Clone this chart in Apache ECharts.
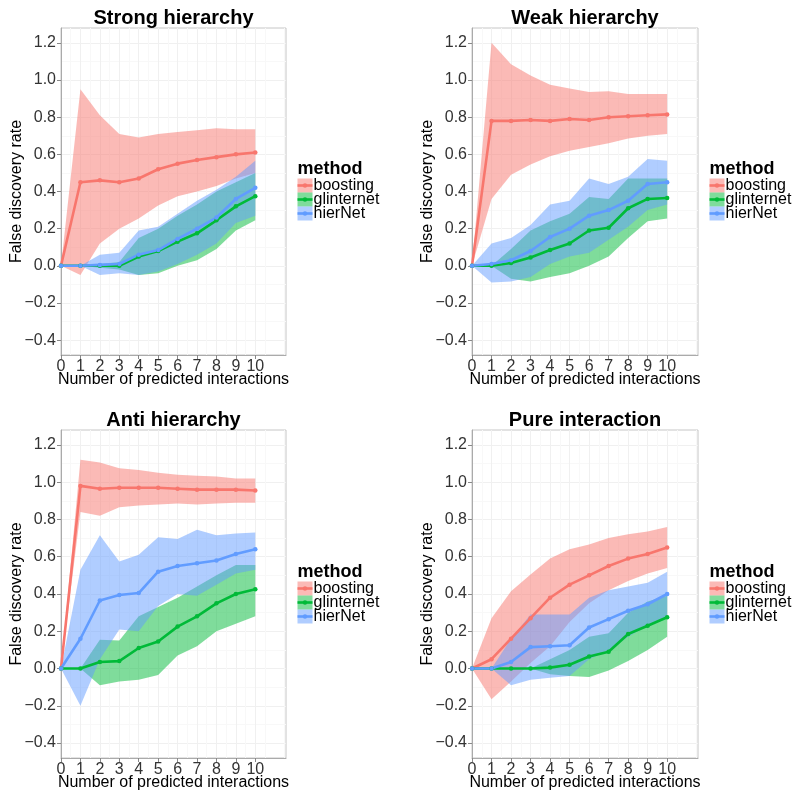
<!DOCTYPE html>
<html>
<head>
<meta charset="utf-8">
<script src="https://cdn.jsdelivr.net/npm/echarts@6/dist/echarts.min.js"></script>
<style>
html,body{margin:0;padding:0;background:#fff;}
#chart{width:800px;height:803px;}
</style>
</head>
<body>
<div id="chart"></div>
<script>
// ---------- DATA ----------
const xValues = [0,1,2,3,4,5,6,7,8,9,10];
const xTickLabels = [0,1,2,3,4,5,6,7,8,9,10];
const yTickLabels = [-0.4,-0.2,0,0.2,0.4,0.6,0.8,1.0,1.2];
const methods = ['boosting','glinternet','hierNet'];
const panelTitles = ['Strong hierarchy','Weak hierarchy','Anti hierarchy','Pure interaction'];

// Strong hierarchy
const strongBoostMean = [0,0.45,0.46,0.45,0.47,0.52,0.55,0.57,0.585,0.60,0.61];
const strongBoostHi   = [0,0.95,0.81,0.71,0.69,0.71,0.72,0.73,0.74,0.735,0.735];
const strongBoostLo   = [0,-0.05,0.12,0.20,0.255,0.325,0.375,0.40,0.43,0.47,0.50];
const strongGlintMean = [0,0,0,0,0.05,0.08,0.13,0.175,0.245,0.32,0.375];
const strongGlintHi   = [0,0,0.01,0.02,0.15,0.20,0.27,0.33,0.40,0.45,0.50];
const strongGlintLo   = [0,0,-0.01,-0.02,-0.05,-0.04,0.0,0.03,0.09,0.19,0.245];
const strongHierMean  = [0,0,0.005,0.01,0.06,0.085,0.145,0.20,0.26,0.36,0.42];
const strongHierHi    = [0,0,0.06,0.07,0.19,0.21,0.28,0.35,0.41,0.48,0.565];
const strongHierLo    = [0,0,-0.05,-0.04,-0.05,-0.03,0.01,0.06,0.12,0.23,0.27];

// Weak hierarchy
const weakBoostMean = [0,0.78,0.78,0.785,0.78,0.79,0.785,0.80,0.805,0.81,0.815];
const weakBoostHi   = [0,1.20,1.085,1.025,0.975,0.955,0.935,0.94,0.925,0.925,0.925];
const weakBoostLo   = [0,0.36,0.49,0.545,0.59,0.62,0.64,0.66,0.685,0.70,0.71];
const weakGlintMean = [0,0,0.015,0.045,0.085,0.12,0.19,0.205,0.31,0.36,0.365];
const weakGlintHi   = [0,0,0.09,0.19,0.24,0.28,0.37,0.36,0.47,0.47,0.47];
const weakGlintLo   = [0,0,-0.07,-0.085,-0.06,-0.04,0.0,0.05,0.15,0.24,0.255];
const weakHierMean  = [0,0.01,0.03,0.08,0.155,0.20,0.27,0.30,0.35,0.44,0.45];
const weakHierHi    = [0,0.12,0.15,0.22,0.33,0.35,0.47,0.44,0.48,0.575,0.565];
const weakHierLo    = [0,-0.09,-0.085,-0.06,0.01,0.05,0.07,0.14,0.21,0.30,0.33];

// Anti hierarchy
const antiBoostMean = [0,0.98,0.965,0.97,0.97,0.97,0.965,0.96,0.96,0.96,0.955];
const antiBoostHi   = [0,1.12,1.105,1.075,1.065,1.05,1.04,1.035,1.03,1.02,1.02];
const antiBoostLo   = [0,0.84,0.82,0.865,0.875,0.88,0.885,0.88,0.885,0.89,0.89];
const antiGlintMean = [0,0,0.035,0.04,0.11,0.145,0.225,0.28,0.35,0.40,0.425];
const antiGlintHi   = [0,0,0.155,0.15,0.28,0.33,0.38,0.44,0.50,0.555,0.555];
const antiGlintLo   = [0,0,-0.09,-0.07,-0.06,-0.035,0.07,0.12,0.20,0.24,0.28];
const antiHierMean  = [0,0.16,0.365,0.395,0.405,0.52,0.55,0.565,0.58,0.615,0.64];
const antiHierHi    = [0,0.53,0.715,0.575,0.61,0.705,0.695,0.745,0.715,0.725,0.73];
const antiHierLo    = [0,-0.20,0.05,0.21,0.20,0.335,0.40,0.39,0.45,0.51,0.53];

// Pure interaction
const pureBoostMean = [0,0.05,0.16,0.27,0.38,0.45,0.50,0.55,0.59,0.615,0.65];
const pureBoostHi   = [0,0.27,0.415,0.505,0.59,0.64,0.665,0.70,0.72,0.735,0.76];
const pureBoostLo   = [0,-0.165,-0.07,0.03,0.12,0.25,0.35,0.42,0.47,0.51,0.54];
const pureGlintMean = [0,0,0,0,0.005,0.02,0.065,0.09,0.185,0.23,0.275];
const pureGlintHi   = [0,0,0,0,0.05,0.10,0.17,0.19,0.30,0.36,0.39];
const pureGlintLo   = [0,0,0,0,-0.03,-0.04,-0.045,-0.01,0.04,0.10,0.17];
const pureHierMean  = [0,0,0.035,0.115,0.12,0.125,0.22,0.265,0.31,0.345,0.40];
const pureHierHi    = [0,0,0.16,0.29,0.29,0.29,0.38,0.42,0.44,0.46,0.52];
const pureHierLo    = [0,0,-0.09,-0.06,-0.05,-0.04,0.05,0.10,0.17,0.23,0.28];

// ---------- STYLE / LAYOUT ----------
const lineColors = ['#F8766D','#00BA38','#619CFF'];
const bandColors = ['rgba(248,118,109,0.5)','rgba(0,186,56,0.5)','rgba(97,156,255,0.5)'];
const FONT = '"Liberation Sans", Arial, Helvetica, sans-serif';

const panelData = [
  [[strongBoostMean,strongBoostLo,strongBoostHi],[strongGlintMean,strongGlintLo,strongGlintHi],[strongHierMean,strongHierLo,strongHierHi]],
  [[weakBoostMean,weakBoostLo,weakBoostHi],[weakGlintMean,weakGlintLo,weakGlintHi],[weakHierMean,weakHierLo,weakHierHi]],
  [[antiBoostMean,antiBoostLo,antiBoostHi],[antiGlintMean,antiGlintLo,antiGlintHi],[antiHierMean,antiHierLo,antiHierHi]],
  [[pureBoostMean,pureBoostLo,pureBoostHi],[pureGlintMean,pureGlintLo,pureGlintHi],[pureHierMean,pureHierLo,pureHierHi]]
];

const grids = [
  {left:61, top:28, width:225, height:327},
  {left:472, top:28, width:226, height:327},
  {left:61, top:430, width:225, height:328},
  {left:472, top:430, width:226, height:328}
];
const legendPos = [
  {x:297.5, y:170},
  {x:709.5, y:170},
  {x:297.5, y:573},
  {x:709.5, y:573}
];

function bandRenderer(lo, hi, color) {
  return function (params, api) {
    if (params.dataIndex !== 0) return null;
    const pts = [];
    for (let i = 0; i < xValues.length; i++) pts.push(api.coord([xValues[i], hi[i]]));
    for (let i = xValues.length - 1; i >= 0; i--) pts.push(api.coord([xValues[i], lo[i]]));
    return {type:'polygon', shape:{points:pts}, style:{fill:color}};
  };
}

const option = {
  animation:false,
  backgroundColor:'#ffffff',
  title:[], grid:[], xAxis:[], yAxis:[], series:[], graphic:[]
};

const axisTextColor = '#333333';
const fmtY = v => (Math.abs(v) < 1e-9 ? '0.0' : v.toFixed(1)).replace('-', '\u2212');

panelTitles.forEach((t, p) => {
  const g = grids[p];
  option.grid.push({left:g.left, top:g.top, width:g.width, height:g.height, show:true,
    borderColor:'#C6C6C6', borderWidth:1, backgroundColor:'#ffffff', containLabel:false});
  option.title.push({text:t, left:g.left + g.width/2, top:g.top - 20, textAlign:'center', padding:0,
    textStyle:{fontFamily:FONT, fontWeight:'bold', fontSize:20, color:'#000'}});
  option.xAxis.push({
    type:'value', gridIndex:p, min:0, max:11.58, interval:1,
    name:'Number of predicted interactions', nameLocation:'middle', nameGap:17, nameMoveOverlap:false,
    nameTextStyle:{fontFamily:FONT, fontSize:16, color:'#000'},
    axisLine:{show:true, onZero:false, lineStyle:{color:'#AAAAAA', width:1}},
    axisTick:{show:true, length:4, customValues:xTickLabels, lineStyle:{color:'#888888'}},
    axisLabel:{customValues:xTickLabels, margin:4, fontFamily:FONT, fontSize:16, color:axisTextColor},
    splitLine:{show:true, lineStyle:{color:'#F0F0F0', width:1}},
    minorTick:{show:false, splitNumber:2},
    minorSplitLine:{show:true, lineStyle:{color:'#F8F8F8', width:1}}
  });
  option.yAxis.push({
    type:'value', gridIndex:p, min:-0.48, max:1.28, splitNumber:9,
    name:'False discovery rate', nameLocation:'middle', nameGap:36, nameMoveOverlap:false,
    nameTextStyle:{fontFamily:FONT, fontSize:16, color:'#000'},
    axisLine:{show:true, onZero:false, lineStyle:{color:'#AAAAAA', width:1}},
    axisTick:{show:true, length:4, customValues:yTickLabels, lineStyle:{color:'#888888'}},
    axisLabel:{customValues:yTickLabels, margin:5, fontFamily:FONT, fontSize:16, color:axisTextColor, formatter:fmtY},
    splitLine:{show:true, lineStyle:{color:'#F0F0F0', width:1}},
    minorTick:{show:false, splitNumber:2},
    minorSplitLine:{show:true, lineStyle:{color:'#F8F8F8', width:1}}
  });

  // bands
  methods.forEach((m, k) => {
    const [mean, lo, hi] = panelData[p][k];
    option.series.push({
      type:'custom', name:m + ' band', xAxisIndex:p, yAxisIndex:p, z:2,
      silent:true, clip:true,
      renderItem: bandRenderer(lo, hi, bandColors[k]),
      encode:{x:0, y:[1,2]},
      data: xValues.map((x, i) => [x, lo[i], hi[i]])
    });
  });
  // lines
  methods.forEach((m, k) => {
    const [mean] = panelData[p][k];
    option.series.push({
      type:'line', name:m, xAxisIndex:p, yAxisIndex:p, z:3,
      data: xValues.map((x, i) => [x, mean[i]]),
      symbol:'circle', symbolSize:4.5, showSymbol:true,
      lineStyle:{color:lineColors[k], width:2.6},
      itemStyle:{color:lineColors[k]},
      emphasis:{disabled:true}, silent:true
    });
  });

  // legend (drawn)
  const L = legendPos[p];
  option.graphic.push({type:'text', left:L.x, top:L.y - 10, silent:true,
    style:{text:'method', fontFamily:FONT, fontWeight:'bold', fontSize:18, fill:'#000'}});
  methods.forEach((m, k) => {
    const cy = L.y + 15.5 + k * 14;
    option.graphic.push({type:'rect', shape:{x:L.x, y:cy - 7, width:15, height:14}, silent:true,
      style:{fill:bandColors[k]}});
    option.graphic.push({type:'line', shape:{x1:L.x, y1:cy, x2:L.x + 15, y2:cy}, silent:true,
      style:{stroke:lineColors[k], lineWidth:2.6}});
    option.graphic.push({type:'circle', shape:{cx:L.x + 7.5, cy:cy, r:2.2}, silent:true,
      style:{fill:lineColors[k]}});
    option.graphic.push({type:'text', x:L.x + 16, y:cy, silent:true,
      style:{text:m, fontFamily:FONT, fontSize:16, fill:'#000', verticalAlign:'middle', align:'left'}});
  });
});

const chart = echarts.init(document.getElementById('chart'), null, {renderer:'canvas'});
chart.setOption(option);
</script>
</body>
</html>
